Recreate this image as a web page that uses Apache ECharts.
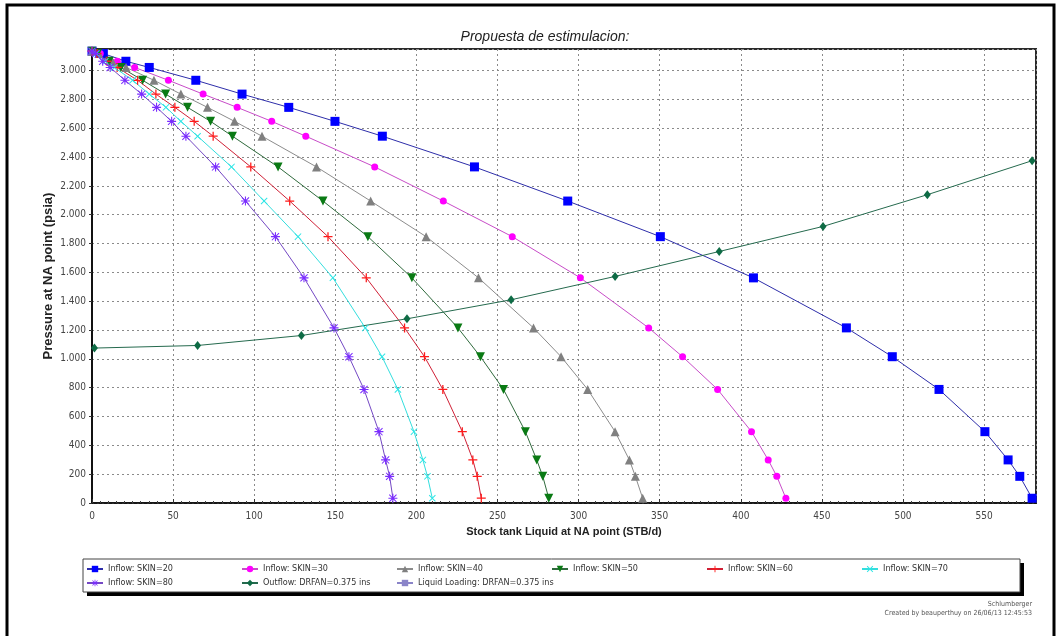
<!DOCTYPE html>
<html>
<head>
<meta charset="utf-8">
<title>Propuesta de estimulacion</title>
<script src="https://cdn.jsdelivr.net/npm/echarts@6/dist/echarts.min.js"></script>
<style>
  html, body { margin: 0; padding: 0; background: #fff; }
  #chart { width: 1060px; height: 636px; }
</style>
</head>
<body>
<div id="chart"></div>
<script>
// Flowing pressures (psia) at which each inflow curve is evaluated
const pressureLevels = [3135, 3118, 3065, 3022, 2933, 2837, 2745, 2648, 2545, 2332, 2095, 1848, 1562, 1215, 1015, 788, 495, 299, 185, 33];

// Liquid rate (STB/d) for each skin value at the pressures above
const skin20 = [0, 7.0, 20.9, 35.3, 64.0, 92.5, 121.3, 149.8, 179.0, 235.8, 293.3, 350.4, 407.8, 465.1, 493.4, 522.2, 550.5, 564.8, 572.0, 579.6];
const skin30 = [0, 5.1, 15.6, 26.3, 47.1, 68.5, 89.5, 110.8, 131.8, 174.3, 216.6, 259.1, 301.1, 343.2, 364.1, 385.7, 406.6, 416.9, 422.2, 427.8];
const skin40 = [0, 4.2, 12.5, 21.0, 38.2, 54.8, 71.2, 87.9, 104.8, 138.4, 171.8, 206.0, 238.3, 272.2, 289.2, 305.6, 322.5, 331.3, 335.0, 339.5];
const skin50 = [0, 3.4, 10.6, 17.8, 31.2, 45.4, 58.9, 73.1, 86.6, 114.7, 142.4, 170.1, 197.2, 225.6, 239.5, 253.7, 267.2, 274.2, 277.9, 281.6];
const skin60 = [0, 3.1, 9.2, 15.5, 28.1, 39.4, 51.1, 63.0, 74.7, 97.9, 121.9, 145.5, 169.1, 192.7, 205.0, 216.3, 228.3, 234.8, 237.5, 240.0];
const skin70 = [0, 2.7, 8.2, 13.8, 25.0, 35.3, 45.6, 54.8, 65.1, 86.0, 106.1, 127.0, 148.5, 168.5, 178.8, 188.6, 198.5, 204.0, 206.8, 209.8];
const skin80 = [0, 2.2, 6.6, 11.2, 20.3, 30.6, 39.8, 49.1, 57.9, 76.2, 94.6, 113.1, 130.7, 149.2, 158.4, 167.7, 176.9, 181.0, 183.5, 185.5];

// Outflow (tubing) curve
const outflowRate = [1.5, 65.1, 129.1, 194.2, 258.4, 322.5, 386.7, 450.7, 515.0, 579.6];
const outflowPressure = [1075, 1093, 1162, 1278, 1410, 1572, 1745, 1919, 2139, 2375];

// Liquid loading curve (no points within range)
const loadingRate = [];
const loadingPressure = [];

const seriesNames = [
  'Inflow: SKIN=20', 'Inflow: SKIN=30', 'Inflow: SKIN=40', 'Inflow: SKIN=50',
  'Inflow: SKIN=60', 'Inflow: SKIN=70', 'Inflow: SKIN=80',
  'Outflow: DRFAN=0.375 ins', 'Liquid Loading: DRFAN=0.375 ins'
];

const xTitle = 'Stock tank Liquid at NA point (STB/d)';
const yTitle = 'Pressure at NA point (psia)';
const chartTitle = 'Propuesta de estimulacion:';

// Marker shapes
const PLUS = 'path://M4.3,0H5.7V4.3H10V5.7H5.7V10H4.3V5.7H0V4.3H4.3Z';
const CROSS = 'path://M0,1L1,0L5,4L9,0L10,1L6,5L10,9L9,10L5,6L1,10L0,9L4,5Z';
const ASTER = 'path://M4.4,0H5.6V4.4H10V5.6H5.6V10H4.4V5.6H0V4.4H4.4Z M0.6,1.4L1.4,0.6L9.4,8.6L8.6,9.4Z M8.6,0.6L9.4,1.4L1.4,9.4L0.6,8.6Z';

const narrow = "'Liberation Sans Narrow', 'DejaVu Sans Condensed', 'Liberation Sans', sans-serif";
const sans = "'Liberation Sans', Arial, sans-serif";

function pairs(xs, ys) {
  return xs.map((x, i) => [x, ys[i]]);
}

function inflow(name, rates, marker, mColor, lColor, size, rotate) {
  return {
    name: name,
    type: 'line',
    data: pairs(rates, pressureLevels),
    symbol: marker,
    symbolSize: size,
    symbolRotate: rotate || 0,
    showAllSymbol: true,
    itemStyle: { color: mColor },
    lineStyle: { color: lColor, width: 1 },
    emphasis: { disabled: true },
    animation: false
  };
}

function fmtThousands(v) {
  if (v >= 1000) {
    const th = Math.floor(v / 1000);
    const rest = String(v % 1000).padStart(3, '0');
    return th + '.' + rest;
  }
  return String(v);
}

const chart = echarts.init(document.getElementById('chart'), null, { renderer: 'canvas' });

chart.setOption({
  backgroundColor: '#ffffff',
  animation: false,
  title: {
    text: chartTitle,
    left: 540,
    textAlign: 'center',
    top: 25,
    textStyle: { fontFamily: sans, fontStyle: 'italic', fontWeight: 'normal', fontSize: 14, color: '#222' }
  },
  grid: {
    left: 92, right: 24, top: 49, bottom: 133,
    show: true, borderColor: '#2a2a2a', borderWidth: 2, backgroundColor: '#fff'
  },
  legend: {
    left: 83, top: 559,
    width: 930,
    padding: [3, 4, 3, 3],
    itemGap: 0,
    itemWidth: 16,
    itemHeight: 8,
    selectedMode: false,
    data: seriesNames,
    textStyle: {
      fontFamily: narrow, fontSize: 9, color: '#333',
      width: 133, overflow: 'none', lineHeight: 14
    }
  },
  xAxis: {
    type: 'value',
    min: 0, max: 582, interval: 50,
    name: xTitle,
    nameLocation: 'middle',
    nameGap: 23,
    nameMoveOverlap: false,
    nameTextStyle: { fontFamily: sans, fontWeight: 'bold', fontSize: 11, color: '#222' },
    axisLine: { show: true, lineStyle: { color: '#111', width: 1.5 } },
    axisTick: { show: true, inside: true, length: 4, lineStyle: { color: '#333' } },
    minorTick: { show: true, splitNumber: 10, length: 2, lineStyle: { color: '#444' } },
    axisLabel: {
      fontFamily: narrow, fontSize: 10, color: '#444', margin: 8,
      formatter: v => (v % 50 === 0 ? String(v) : '')
    },
    splitLine: { show: true, lineStyle: { color: '#8a8a8a', type: [2, 3], width: 1 } }
  },
  yAxis: {
    type: 'value',
    min: 0, max: 3150, interval: 200,
    name: yTitle,
    nameLocation: 'middle',
    nameGap: 37,
    nameMoveOverlap: false,
    nameRotate: 90,
    nameTextStyle: { fontFamily: sans, fontWeight: 'bold', fontSize: 13, color: '#222' },
    axisLine: { show: true, lineStyle: { color: '#111', width: 2 } },
    axisTick: { show: true, inside: false, length: 3, lineStyle: { color: '#333' } },
    axisLabel: {
      fontFamily: narrow, fontSize: 10, color: '#444', margin: 6,
      formatter: v => (v % 200 === 0 ? fmtThousands(v) : '')
    },
    splitLine: { show: true, lineStyle: { color: '#8a8a8a', type: [2, 3], width: 1 } }
  },
  series: [
    inflow(seriesNames[0], skin20, 'rect', '#0000ff', '#2e2eaa', 9),
    inflow(seriesNames[1], skin30, 'circle', '#ff00ff', '#c84cc8', 7),
    inflow(seriesNames[2], skin40, 'triangle', '#808080', '#8c8c8c', 9),
    inflow(seriesNames[3], skin50, 'triangle', '#0a7a14', '#2f6a3c', 9, 180),
    inflow(seriesNames[4], skin60, PLUS, '#ff1a1a', '#d02036', 9),
    inflow(seriesNames[5], skin70, CROSS, '#2ee6e6', '#33dede', 7),
    inflow(seriesNames[6], skin80, ASTER, '#7a2cff', '#7448c4', 9),
    {
      name: seriesNames[7],
      type: 'line',
      data: pairs(outflowRate, outflowPressure),
      symbol: 'diamond',
      symbolSize: [7, 9],
      itemStyle: { color: '#0e6b45' },
      lineStyle: { color: '#256a4e', width: 1 },
      emphasis: { disabled: true },
      animation: false
    },
    {
      name: seriesNames[8],
      type: 'line',
      data: pairs(loadingRate, loadingPressure),
      symbol: 'rect',
      symbolSize: 7,
      itemStyle: { color: '#8a84c8' },
      lineStyle: { color: '#8a84c8', width: 1 },
      animation: false
    }
  ],
  graphic: [
    {
      type: 'rect',
      shape: { x: 7, y: 5, width: 1047, height: 640 },
      style: { fill: 'none', stroke: '#000', lineWidth: 3 },
      silent: true
    },
    // legend frame with a solid drop shadow
    {
      type: 'rect', z: 1,
      shape: { x: 87, y: 563, width: 937, height: 33 },
      style: { fill: '#000' },
      silent: true
    },
    {
      type: 'rect', z: 2,
      shape: { x: 83, y: 559, width: 937, height: 33 },
      style: { fill: '#fff', stroke: '#444', lineWidth: 1 },
      silent: true
    },
    {
      type: 'text',
      right: 28, top: 601,
      style: { text: 'Schlumberger', fontFamily: narrow, fontSize: 7, fill: '#555', textAlign: 'right' }
    },
    {
      type: 'text',
      right: 28, top: 610,
      style: { text: 'Created by beauperthuy on 26/06/13 12:45:53', fontFamily: narrow, fontSize: 7, fill: '#555', textAlign: 'right' }
    }
  ]
});
</script>
</body>
</html>
